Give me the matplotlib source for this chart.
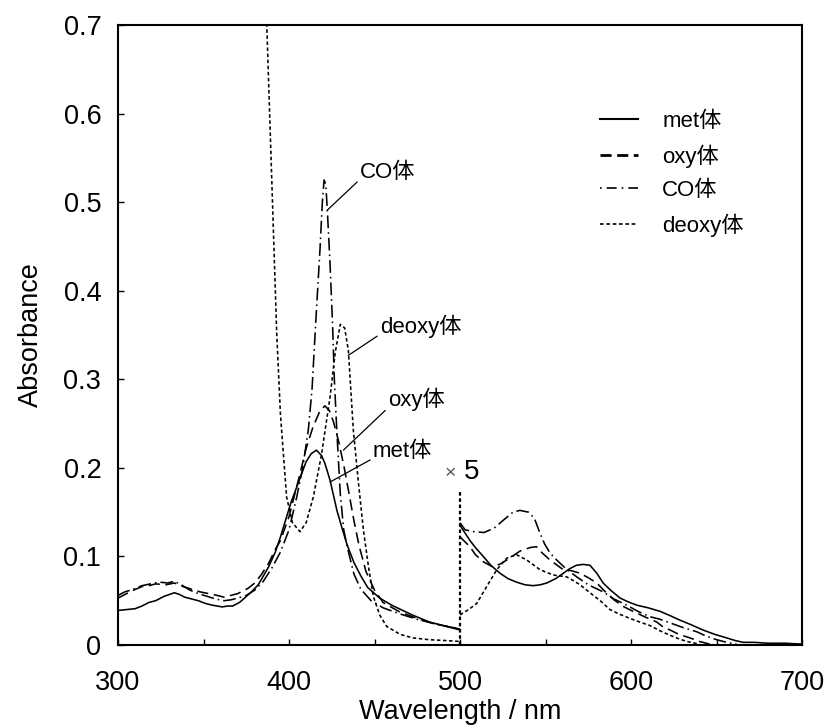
import matplotlib
matplotlib.use('Agg')
import matplotlib.pyplot as plt
from matplotlib.lines import Line2D

plt.rcParams['font.family'] = ['Liberation Sans', 'Noto Sans CJK JP', 'DejaVu Sans']

# --- 300-500 nm (as measured) ---
met_x = [300, 305, 310, 314, 318, 322, 327, 333, 336, 339, 343, 347, 351, 355, 358, 361, 364, 367, 371,
         374, 378, 382, 385, 388, 392, 395, 401, 406, 410, 413, 416, 419, 421, 424, 428, 431, 434, 438,
         442, 446, 453, 460, 472, 482, 492, 500]
met_y = [0.039, 0.040, 0.041, 0.044, 0.048, 0.050, 0.055, 0.059, 0.057, 0.054, 0.052, 0.050, 0.047, 0.045,
         0.044, 0.043, 0.044, 0.044, 0.048, 0.053, 0.060, 0.068, 0.078, 0.088, 0.105, 0.122, 0.160, 0.186,
         0.207, 0.216, 0.220, 0.214, 0.205, 0.186, 0.152, 0.132, 0.113, 0.093, 0.078, 0.065, 0.053, 0.045,
         0.034, 0.026, 0.021, 0.017]

oxy_x = [300, 304, 308, 314, 318, 322, 328, 333, 338, 343, 348, 353, 358, 362, 366, 370, 376, 380, 384,
         388, 392, 395, 400, 406, 410, 414, 418, 421, 423.5, 426, 429, 432, 435, 438, 441, 445, 450, 455,
         465, 475, 485, 500]
oxy_y = [0.053, 0.057, 0.061, 0.066, 0.067, 0.069, 0.068, 0.070, 0.066, 0.063, 0.060, 0.058, 0.056, 0.054,
         0.056, 0.058, 0.064, 0.070, 0.080, 0.092, 0.108, 0.118, 0.145, 0.190, 0.222, 0.246, 0.264, 0.270,
         0.265, 0.252, 0.230, 0.203, 0.172, 0.140, 0.112, 0.083, 0.062, 0.048, 0.037, 0.030, 0.024, 0.018]

co_x = [300, 304, 309, 314, 319, 324, 329, 333, 337, 342, 347, 352, 357, 362, 366, 370, 375, 380, 385,
        390, 395, 400, 404.5, 408, 411.3, 413.5, 415.5, 417, 418.1, 419.5, 420.5, 421.5, 422.4, 424, 425.5,
        426.5, 428, 430, 432, 434, 438, 442, 448, 455, 465, 475, 485, 500]
co_y = [0.056, 0.060, 0.063, 0.067, 0.069, 0.071, 0.070, 0.072, 0.068, 0.062, 0.058, 0.055, 0.052, 0.050,
        0.051, 0.053, 0.056, 0.062, 0.072, 0.087, 0.105, 0.130, 0.167, 0.200, 0.243, 0.290, 0.360, 0.410,
        0.446, 0.500, 0.525, 0.520, 0.491, 0.430, 0.360, 0.300, 0.240, 0.170, 0.130, 0.111, 0.080, 0.063,
        0.050, 0.042, 0.035, 0.029, 0.024, 0.018]

deoxy_x = [380, 384, 387, 390, 392.8, 395, 398.6, 402, 406.4, 410, 414.2, 419, 424, 427, 430, 432.5, 434.7,
           437.6, 440.5, 443.5, 446.5, 449.3, 453, 457.1, 465, 472.5, 482, 492, 500]
deoxy_y = [1.20, 0.88, 0.70, 0.52, 0.352, 0.26, 0.167, 0.138, 0.128, 0.138, 0.167, 0.215, 0.280, 0.330,
           0.362, 0.358, 0.333, 0.243, 0.185, 0.130, 0.088, 0.055, 0.034, 0.021, 0.012, 0.008, 0.006, 0.005,
           0.004]

# --- 500-700 nm (shown x 5) ---
met_x5 = [500, 505.8, 509, 513.6, 518, 523.4, 528, 533, 538, 542.7, 547, 550.7, 556, 560.4, 564, 568, 572,
          576, 580, 583.7, 588, 593.6, 598, 603.3, 610, 617, 623, 628.7, 635, 642, 649, 656, 661, 665.6,
          672, 680, 690, 700]
met_y5 = [0.135, 0.118, 0.110, 0.100, 0.090, 0.081, 0.075, 0.071, 0.068, 0.067, 0.068, 0.070, 0.075, 0.081,
          0.086, 0.090, 0.091, 0.090, 0.081, 0.070, 0.062, 0.053, 0.049, 0.045, 0.042, 0.038, 0.033, 0.028,
          0.023, 0.017, 0.012, 0.008, 0.005, 0.003, 0.003, 0.002, 0.002, 0.001]

oxy_x5 = [500, 505.8, 509, 513.6, 519.3, 524, 529, 535, 540.9, 544.7, 548, 552.6, 560.4, 565, 570.2, 575, 580,
          585, 590, 596, 603.3, 609, 615, 619, 622.8, 628, 634.5, 640, 646]
oxy_y5 = [0.122, 0.111, 0.102, 0.094, 0.088, 0.092, 0.098, 0.106, 0.110, 0.111, 0.104, 0.096, 0.085, 0.084,
          0.081, 0.076, 0.070, 0.060, 0.051, 0.043, 0.036, 0.031, 0.026, 0.020, 0.017, 0.012, 0.008, 0.004,
          0.001]

co_x5 = [500, 503, 508, 514, 520, 526, 531, 535, 540, 543.5, 546.8, 549.5, 552.6, 556.5, 562, 568.2, 575,
         583.7, 590, 597.5, 604, 611, 617, 622.8, 630, 638.4, 644, 650, 656, 661.7]
co_y5 = [0.138, 0.130, 0.128, 0.127, 0.132, 0.142, 0.150, 0.152, 0.150, 0.143, 0.126, 0.114, 0.104, 0.096,
         0.086, 0.077, 0.068, 0.060, 0.052, 0.045, 0.038, 0.032, 0.029, 0.025, 0.020, 0.015, 0.010, 0.006,
         0.003, 0.001]

deoxy_x5 = [500, 505, 509.8, 515.6, 521.5, 527.3, 533, 539, 546.8, 554.5, 562.3, 566, 570.2, 576, 582,
            587.7, 593, 599.4, 605, 611, 617, 622.8, 628, 632.6, 640]
deoxy_y5 = [0.034, 0.040, 0.047, 0.066, 0.085, 0.098, 0.102, 0.096, 0.085, 0.079, 0.077, 0.073, 0.068,
            0.059, 0.050, 0.040, 0.035, 0.030, 0.026, 0.022, 0.016, 0.011, 0.007, 0.004, 0.001]

legend_labels = ['met体', 'oxy体', 'CO体', 'deoxy体']

# annotation labels: text, point on curve, text anchor (left, middle)
note_text = ['CO体', 'deoxy体', 'oxy体', 'met体']
note_xy = [(422.4, 0.491), (434.7, 0.327), (431.8, 0.220), (424.0, 0.184)]
note_txt = [(441.5, 0.534), (453.2, 0.360), (457.9, 0.277), (449.1, 0.219)]

split_x = 500
split_top = 0.173

# line styles
lw = 1.15
st_met = dict(color='k', lw=lw, ls='-')
st_oxy = dict(color='k', lw=lw, ls=(0, (7, 3.5)))
st_co = dict(color='k', lw=lw, ls=(0, (8, 2.5, 1, 2.5)))
st_deoxy = dict(color='k', lw=lw, ls=(0, (2.2, 1.6)))

fig = plt.figure(figsize=(8.27, 7.28), dpi=100)
ax = fig.add_axes([0.1427, 0.114, 0.8271, 0.8517])

ax.plot(met_x, met_y, **st_met)
ax.plot(oxy_x, oxy_y, **st_oxy)
ax.plot(co_x, co_y, **st_co)
ax.plot(deoxy_x, deoxy_y, **st_deoxy)

ax.plot(met_x5, met_y5, **st_met)
ax.plot(oxy_x5, oxy_y5, **st_oxy)
ax.plot(co_x5, co_y5, **st_co)
ax.plot(deoxy_x5, deoxy_y5, **st_deoxy)

# divider for the x5 region
ax.plot([split_x, split_x], [0, split_top], color='k', lw=1.6, ls=(0, (1.6, 1.2)))
ax.text(split_x - 9, split_top + 0.021, '×', fontsize=14, color='#555555', ha='left', va='center')
ax.text(split_x + 2.5, split_top + 0.022, '5', fontsize=20, ha='left', va='center')

for t, xy, xt in zip(note_text, note_xy, note_txt):
    ax.annotate(t, xy=xy, xytext=xt, fontsize=16, ha='left', va='center',
                arrowprops=dict(arrowstyle='-', color='k', lw=0.9, relpos=(0, 0.15),
                                shrinkA=0, shrinkB=0))

handles = [Line2D([], [], color='k', lw=1.5, ls='-'),
           Line2D([], [], color='k', lw=2.0, ls=(0, (4, 2))),
           Line2D([], [], color='k', lw=1.2, ls=(0, (1, 3, 6, 3))),
           Line2D([], [], color='k', lw=1.2, ls=(0, (2.2, 1.6)))]
ax.legend(handles, legend_labels, loc='upper left', bbox_to_anchor=(0.7045, 0.862), frameon=False,
          fontsize=16, handlelength=1.7, handletextpad=1.1, labelspacing=0.57,
          borderpad=0, borderaxespad=0)

ax.set_xlim(300, 700)
ax.set_ylim(0, 0.7)
ax.set_xticks([300, 400, 500, 600, 700])
ax.set_xticks([350, 450, 550, 650], minor=True)
ax.set_yticks([0, 0.1, 0.2, 0.3, 0.4, 0.5, 0.6, 0.7])
ax.set_yticklabels(['0', '0.1', '0.2', '0.3', '0.4', '0.5', '0.6', '0.7'])
ax.tick_params(which='both', direction='in', length=4, width=1, labelsize=19.5)
ax.tick_params(axis='x', which='both', pad=18)
ax.tick_params(axis='y', pad=12)
for s in ax.spines.values():
    s.set_linewidth(1.5)

ax.set_xlabel('Wavelength / nm', fontsize=19.5, labelpad=2)
ax.set_ylabel('Absorbance', fontsize=19.5, labelpad=14)

fig.savefig('out.png', dpi=100)
